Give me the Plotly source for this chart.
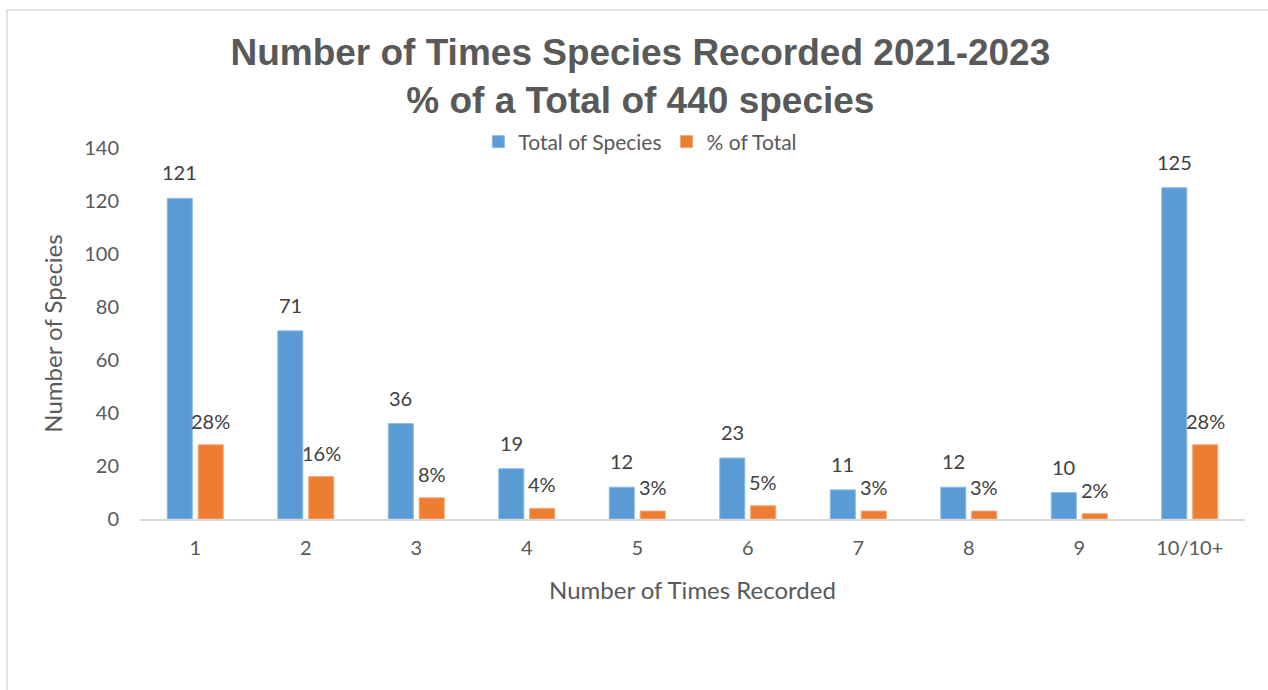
import plotly.graph_objects as go

# Number of times a species was recorded, 2021-2023
times_recorded = ["1", "2", "3", "4", "5", "6", "7", "8", "9", "10/10+"]
species_totals = [121, 71, 36, 19, 12, 23, 11, 12, 10, 125]
pct_of_total = [28, 16, 8, 4, 3, 5, 3, 3, 2, 28]

y_ticks = [0, 20, 40, 60, 80, 100, 120, 140]

BLUE = "#5B9BD5"
ORANGE = "#ED7D31"
TEXT = "#595959"
LABEL = "#404040"
BODY_FONT = "Lato"

W, H = 1268, 690
L, R, T, B = 140, 23, 148, 171
plot_w = W - L - R
plot_h = H - T - B

fig = go.Figure()
fig.add_trace(go.Bar(
    x=times_recorded, y=species_totals, name="Total of Species",
    marker=dict(color=BLUE, line=dict(color="#8DBBE6", width=1)),
))
fig.add_trace(go.Bar(
    x=times_recorded, y=pct_of_total, name="% of Total",
    marker=dict(color=ORANGE, line=dict(color="#F4A677", width=1)),
))

# value labels above each bar (category positions by index)
slot_px = plot_w / len(times_recorded)
offset_px = slot_px * (1 - 0.44) / 4
annotations = []
for i, v in enumerate(species_totals):
    annotations.append(dict(
        x=i, y=v, xref="x", yref="y", text=str(v), showarrow=False,
        xshift=-offset_px, yshift=12, yanchor="bottom",
        font=dict(family=BODY_FONT, size=20, color=LABEL),
    ))
for i, v in enumerate(pct_of_total):
    annotations.append(dict(
        x=i, y=v, xref="x", yref="y", text=f"{v}%", showarrow=False,
        xshift=offset_px, yshift=10, yanchor="bottom",
        font=dict(family=BODY_FONT, size=20, color=LABEL),
    ))

# outer chart frame
shapes = [dict(
    type="rect", xref="paper", yref="paper",
    x0=(7 - L) / plot_w, x1=(W + 20 - L) / plot_w,
    y0=(H - B - (H + 20)) / plot_h, y1=(H - B - 10) / plot_h,
    line=dict(color="#D9D9D9", width=1.5), fillcolor="rgba(0,0,0,0)",
    layer="below",
)]

fig.update_layout(
    width=W, height=H,
    margin=dict(l=L, r=R, t=T, b=B, autoexpand=False),
    paper_bgcolor="white", plot_bgcolor="white",
    barmode="group", bargap=0.44, bargroupgap=0.19,
    title=dict(
        text="Number of Times Species Recorded 2021-2023<br>% of a Total of 440 species",
        x=0.505, xanchor="center", xref="container",
        y=1 - 65 / H, yanchor="middle", yref="container",
        font=dict(family="Liberation Sans", size=37, color=TEXT, weight="bold"),
    ),
    legend=dict(
        orientation="h", x=0.505, xanchor="center", xref="container",
        y=1 - 142 / H, yanchor="middle", yref="container",
        font=dict(family=BODY_FONT, size=21, color=TEXT),
        itemwidth=30, traceorder="normal",
    ),
    xaxis=dict(
        showgrid=False, showline=True, linecolor="#D9D9D9", linewidth=2,
        ticks="", ticklabelstandoff=10,
        tickfont=dict(family=BODY_FONT, size=20, color=TEXT),
        title=dict(text="Number of Times Recorded", standoff=24,
                   font=dict(family=BODY_FONT, size=24, color=TEXT)),
    ),
    yaxis=dict(
        range=[0, 140], tickvals=y_ticks, showgrid=False, showline=False,
        zeroline=False, ticks="", ticklabelstandoff=20,
        tickfont=dict(family=BODY_FONT, size=20, color=TEXT),
        title=dict(text="Number of Species", standoff=14,
                   font=dict(family=BODY_FONT, size=24, color=TEXT)),
    ),
    annotations=annotations,
    shapes=shapes,
    showlegend=True,
)

fig.write_html("out.html")
